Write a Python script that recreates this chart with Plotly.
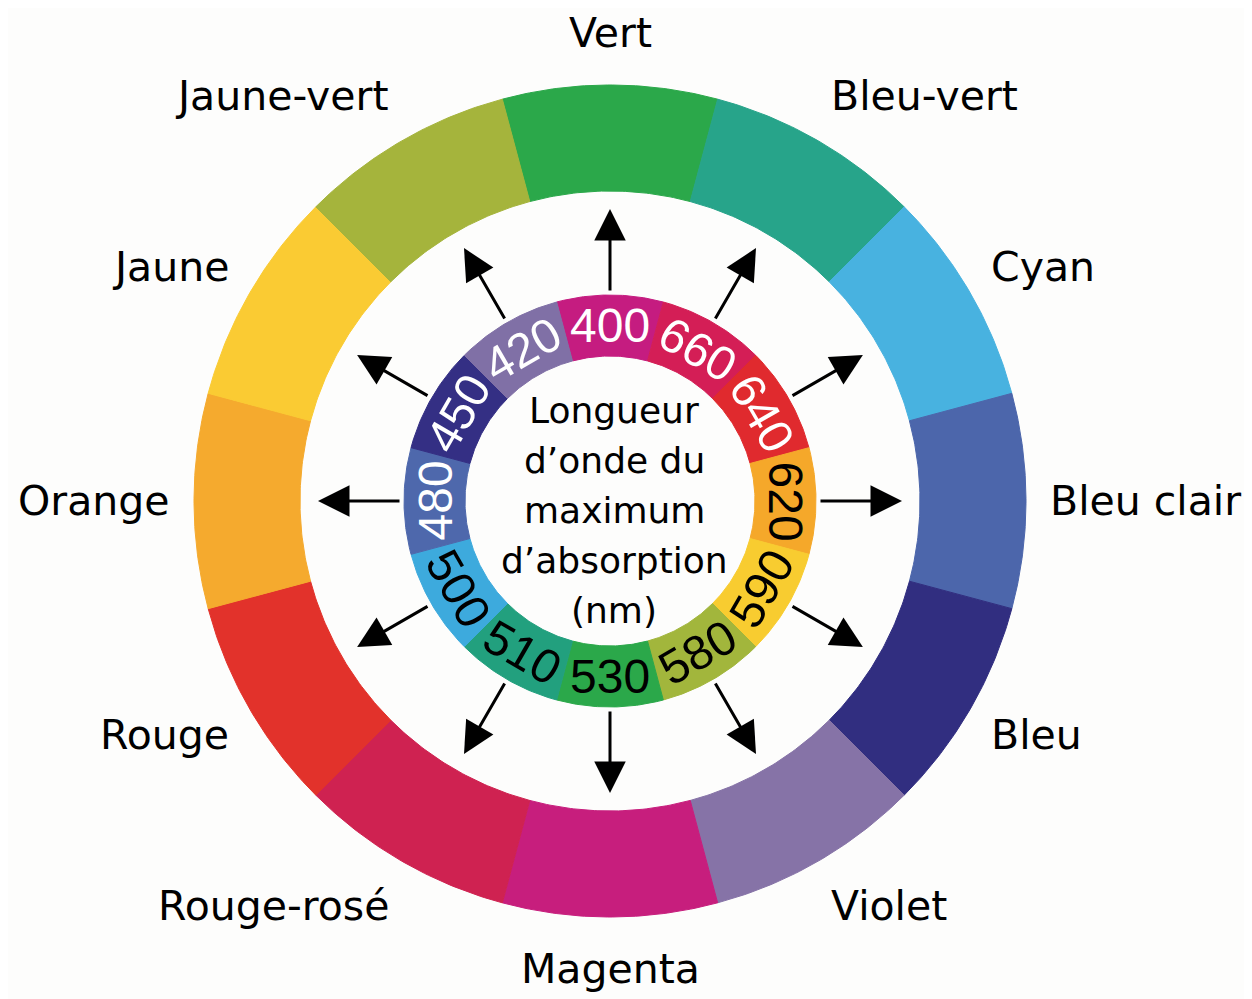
import numpy as np
import plotly.graph_objects as go

# ---- data (clockwise from the top) ----
outer_labels = ["Vert", "Bleu-vert", "Cyan", "Bleu clair", "Bleu", "Violet",
                "Magenta", "Rouge-rosé", "Rouge", "Orange", "Jaune", "Jaune-vert"]
outer_colors = ["#2BA84A", "#27A48A", "#48B2E0", "#4C66AB", "#312E80", "#8673A7",
                "#C71E7D", "#CF2251", "#E2322B", "#F5AA2E", "#FACB33", "#A5B43C"]
inner_labels = ["400", "660", "640", "620", "590", "580",
                "530", "510", "500", "480", "450", "420"]
inner_colors = ["#C51C80", "#D41E56", "#E02A2E", "#F5A82A", "#F8CC30", "#A2B63C",
                "#2BA84A", "#22A07E", "#3DAADD", "#4E68AC", "#342F84", "#8070A6"]
inner_text_colors = ["white", "white", "white", "black", "black", "black",
                     "black", "black", "black", "white", "white", "white"]
center_lines = ["Longueur", "d’onde du", "maximum", "d’absorption", "(nm)"]

# ---- geometry ----
R_OUT, R_OUT_IN = 416, 310
R_IN, R_IN_IN = 206, 145
ARROW_TAIL, ARROW_TIP = 209, 292
LABEL_RX, LABEL_RY = 438, 468
STEP = 30
W, H = 1252, 999
PAGE_OFFSET = 8          # default body margin of the html page
CXP, CYP = 610 - PAGE_OFFSET, 501 - PAGE_OFFSET  # centre in figure pixels

angles = [90 - STEP * i for i in range(len(outer_labels))]


def wedge(r0, r1, ac, half=STEP / 2):
    a = np.radians(np.linspace(ac - half, ac + half, 48))
    xs = np.concatenate([r1 * np.cos(a), r0 * np.cos(a[::-1])])
    ys = np.concatenate([r1 * np.sin(a), r0 * np.sin(a[::-1])])
    return np.append(xs, xs[0]), np.append(ys, ys[0])


fig = go.Figure()
for ang, col in zip(angles, outer_colors):
    xs, ys = wedge(R_OUT_IN, R_OUT, ang)
    fig.add_trace(go.Scatter(x=xs, y=ys, fill="toself", fillcolor=col, mode="lines",
                             line=dict(color=col, width=1), hoverinfo="skip"))
for ang, col in zip(angles, inner_colors):
    xs, ys = wedge(R_IN_IN, R_IN, ang)
    fig.add_trace(go.Scatter(x=xs, y=ys, fill="toself", fillcolor=col, mode="lines",
                             line=dict(color=col, width=1), hoverinfo="skip"))

ann = []
# outer labels
for ang, lab in zip(angles, outer_labels):
    c, s = np.cos(np.radians(ang)), np.sin(np.radians(ang))
    xa = "left" if c > 0.3 else ("right" if c < -0.3 else "center")
    ann.append(dict(x=LABEL_RX * c, y=LABEL_RY * s, text=lab, showarrow=False,
                    xanchor=xa, yanchor="middle",
                    font=dict(family="DejaVu Sans", size=41, color="black")))

# inner numbers
r_mid = (R_IN + R_IN_IN) / 2
for ang, lab, tc in zip(angles, inner_labels, inner_text_colors):
    c, s = np.cos(np.radians(ang)), np.sin(np.radians(ang))
    ta = 90 - ang if s > -0.1 else -90 - ang
    ann.append(dict(x=r_mid * c, y=r_mid * s, text=lab, showarrow=False,
                    xanchor="center", yanchor="middle", textangle=ta,
                    font=dict(family="Liberation Sans", size=48, color=tc)))

# arrows
for ang in angles:
    c, s = np.cos(np.radians(ang)), np.sin(np.radians(ang))
    ann.append(dict(x=ARROW_TIP * c, y=ARROW_TIP * s, ax=ARROW_TAIL * c, ay=ARROW_TAIL * s,
                    axref="x", ayref="y", xref="x", yref="y", text="",
                    showarrow=True, arrowhead=2, arrowsize=2.1, arrowwidth=3,
                    arrowcolor="black", standoff=0, startstandoff=0))

# centre text
n = len(center_lines)
for i, line in enumerate(center_lines):
    ann.append(dict(x=4, y=(n // 2 - i) * 50 - 9, text=line, showarrow=False,
                    xanchor="center", yanchor="middle",
                    font=dict(family="DejaVu Sans", size=36, color="black")))

fig.update_layout(
    width=W, height=H, margin=dict(l=0, r=0, t=0, b=0),
    paper_bgcolor="#FDFDFC", plot_bgcolor="#FDFDFC", showlegend=False,
    xaxis=dict(range=[-CXP, W - CXP], visible=False, fixedrange=True),
    yaxis=dict(range=[CYP - H, CYP], visible=False, fixedrange=True),
    annotations=ann, hovermode=False,
)
fig.write_html("out.html")
